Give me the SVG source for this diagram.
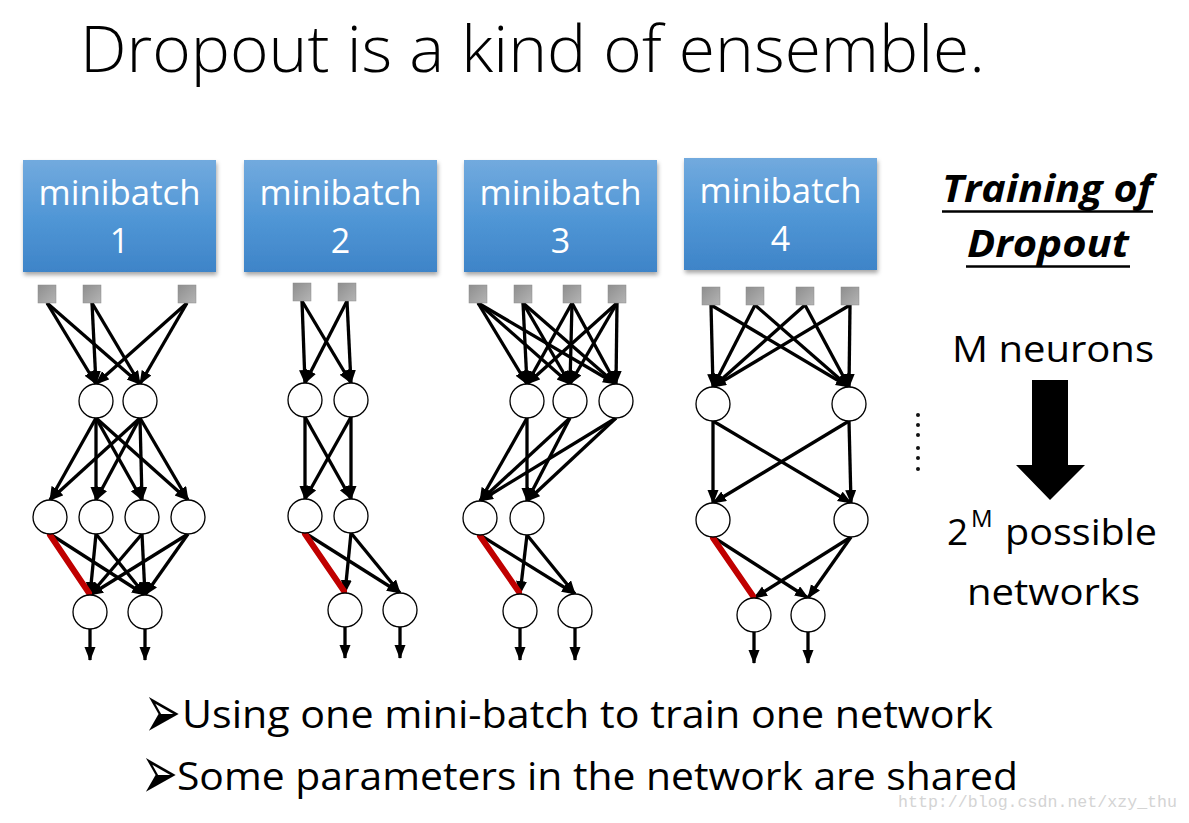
<svg xmlns="http://www.w3.org/2000/svg" width="1189" height="823" viewBox="0 0 1189 823">
<style>
.title{font-family:"Open Sans","Liberation Sans",sans-serif;font-weight:300;font-size:64px;fill:#000}
.mb{font-family:"Open Sans","Liberation Sans",sans-serif;font-size:34px;fill:#fff;text-anchor:middle}
.side{font-family:"Open Sans","Liberation Sans",sans-serif;font-size:37px;fill:#000}
.sideb{font-family:"Open Sans","Liberation Sans",sans-serif;font-size:37px;font-weight:bold;font-style:italic;fill:#000}
.bul{font-family:"Open Sans","Liberation Sans",sans-serif;font-size:38px;fill:#000}
.sym{font-family:"DejaVu Sans",sans-serif;font-size:44px;fill:#000}
.wm{font-family:"Liberation Mono",monospace;font-size:17px;fill:#d4d4d4}
.box{fill:url(#boxg);filter:url(#sh)}
.sq{fill:url(#sqg);stroke:#8a8a8a;stroke-width:0.5}
.nd{fill:#fff;stroke:#000;stroke-width:1.3}
.e{stroke:#000;stroke-width:3.3;fill:none;marker-end:url(#ah)}
.r{stroke:#c00000;stroke-width:6;stroke-linecap:round;fill:none}
</style>
<defs>
<linearGradient id="boxg" x1="0" y1="0" x2="0" y2="1">
<stop offset="0" stop-color="#72aade"/>
<stop offset="0.5" stop-color="#5197d6"/>
<stop offset="1" stop-color="#3e84c8"/>
</linearGradient>
<linearGradient id="sqg" x1="0" y1="0" x2="1" y2="1">
<stop offset="0" stop-color="#8e8e8e"/>
<stop offset="1" stop-color="#b4b4b4"/>
</linearGradient>
<filter id="sh" x="-10%" y="-10%" width="125%" height="130%">
<feDropShadow dx="1" dy="3" stdDeviation="2" flood-color="#000" flood-opacity="0.35"/>
</filter>
<marker id="ah" markerUnits="userSpaceOnUse" markerWidth="15" markerHeight="12" refX="13" refY="5.5" orient="auto">
<path d="M0,0 L14,5.5 L0,11 z" fill="#000"/>
</marker>
</defs>
<rect width="1189" height="823" fill="#fff"/>

<text class="title" x="80" y="72" textLength="905" lengthAdjust="spacingAndGlyphs">Dropout is a kind of ensemble.</text>

<g id="mb1"><rect class="box" x="23" y="160" width="193" height="112"/><text class="mb" x="119.5" y="205" textLength="162" lengthAdjust="spacingAndGlyphs">minibatch</text><text class="mb" x="119.5" y="253">1</text></g>
<g id="mb2"><rect class="box" x="244" y="160" width="193" height="112"/><text class="mb" x="340.5" y="205" textLength="162" lengthAdjust="spacingAndGlyphs">minibatch</text><text class="mb" x="340.5" y="253">2</text></g>
<g id="mb3"><rect class="box" x="464" y="160" width="193" height="112"/><text class="mb" x="560.5" y="205" textLength="162" lengthAdjust="spacingAndGlyphs">minibatch</text><text class="mb" x="560.5" y="253">3</text></g>
<g id="mb4"><rect class="box" x="684" y="158" width="193" height="112"/><text class="mb" x="780.5" y="203" textLength="162" lengthAdjust="spacingAndGlyphs">minibatch</text><text class="mb" x="780.5" y="251">4</text></g>

<g id="connectors">
<!-- net 1 -->
<line class="e" x1="47" y1="303" x2="96" y2="384"/>
<line class="e" x1="47" y1="303" x2="140" y2="384"/>
<line class="e" x1="92" y1="303" x2="96" y2="384"/>
<line class="e" x1="92" y1="303" x2="140" y2="384"/>
<line class="e" x1="187" y1="303" x2="96" y2="384"/>
<line class="e" x1="187" y1="303" x2="140" y2="384"/>
<line class="e" x1="96" y1="418" x2="50" y2="500"/>
<line class="e" x1="96" y1="418" x2="96" y2="500"/>
<line class="e" x1="96" y1="418" x2="142" y2="500"/>
<line class="e" x1="96" y1="418" x2="188" y2="500"/>
<line class="e" x1="140" y1="418" x2="50" y2="500"/>
<line class="e" x1="140" y1="418" x2="96" y2="500"/>
<line class="e" x1="140" y1="418" x2="142" y2="500"/>
<line class="e" x1="140" y1="418" x2="188" y2="500"/>
<line class="e" x1="50" y1="534" x2="145" y2="595"/>
<line class="e" x1="96" y1="534" x2="90" y2="595"/>
<line class="e" x1="96" y1="534" x2="145" y2="595"/>
<line class="e" x1="142" y1="534" x2="90" y2="595"/>
<line class="e" x1="142" y1="534" x2="145" y2="595"/>
<line class="e" x1="188" y1="534" x2="90" y2="595"/>
<line class="e" x1="188" y1="534" x2="145" y2="595"/>
<line class="r" x1="50" y1="535" x2="89" y2="593"/>
<line class="e" x1="90" y1="629" x2="90" y2="660"/>
<line class="e" x1="145" y1="629" x2="145" y2="660"/>
<!-- net 2 -->
<line class="e" x1="302" y1="301" x2="305" y2="383"/>
<line class="e" x1="302" y1="301" x2="351" y2="383"/>
<line class="e" x1="347" y1="301" x2="305" y2="383"/>
<line class="e" x1="347" y1="301" x2="351" y2="383"/>
<line class="e" x1="305" y1="417" x2="305" y2="499"/>
<line class="e" x1="305" y1="417" x2="351" y2="499"/>
<line class="e" x1="351" y1="417" x2="305" y2="499"/>
<line class="e" x1="351" y1="417" x2="351" y2="499"/>
<line class="e" x1="305" y1="533" x2="400" y2="593"/>
<line class="e" x1="351" y1="533" x2="345" y2="593"/>
<line class="e" x1="351" y1="533" x2="400" y2="593"/>
<line class="r" x1="305" y1="534" x2="344" y2="591"/>
<line class="e" x1="345" y1="627" x2="345" y2="658"/>
<line class="e" x1="400" y1="627" x2="400" y2="658"/>
<!-- net 3 -->
<line class="e" x1="478" y1="303" x2="527" y2="384"/>
<line class="e" x1="478" y1="303" x2="570" y2="384"/>
<line class="e" x1="478" y1="303" x2="616" y2="384"/>
<line class="e" x1="523" y1="303" x2="527" y2="384"/>
<line class="e" x1="523" y1="303" x2="570" y2="384"/>
<line class="e" x1="523" y1="303" x2="616" y2="384"/>
<line class="e" x1="572" y1="303" x2="527" y2="384"/>
<line class="e" x1="572" y1="303" x2="570" y2="384"/>
<line class="e" x1="572" y1="303" x2="616" y2="384"/>
<line class="e" x1="617" y1="303" x2="527" y2="384"/>
<line class="e" x1="617" y1="303" x2="570" y2="384"/>
<line class="e" x1="617" y1="303" x2="616" y2="384"/>
<line class="e" x1="527" y1="418" x2="480" y2="501"/>
<line class="e" x1="527" y1="418" x2="527" y2="501"/>
<line class="e" x1="570" y1="418" x2="480" y2="501"/>
<line class="e" x1="570" y1="418" x2="527" y2="501"/>
<line class="e" x1="616" y1="418" x2="480" y2="501"/>
<line class="e" x1="616" y1="418" x2="527" y2="501"/>
<line class="e" x1="480" y1="535" x2="575" y2="594"/>
<line class="e" x1="527" y1="535" x2="520" y2="594"/>
<line class="e" x1="527" y1="535" x2="575" y2="594"/>
<line class="r" x1="480" y1="536" x2="519" y2="592"/>
<line class="e" x1="520" y1="628" x2="520" y2="660"/>
<line class="e" x1="575" y1="628" x2="575" y2="660"/>
<!-- net 4 -->
<line class="e" x1="711" y1="305" x2="713" y2="387"/>
<line class="e" x1="711" y1="305" x2="849" y2="387"/>
<line class="e" x1="755" y1="305" x2="713" y2="387"/>
<line class="e" x1="755" y1="305" x2="849" y2="387"/>
<line class="e" x1="805" y1="305" x2="713" y2="387"/>
<line class="e" x1="805" y1="305" x2="849" y2="387"/>
<line class="e" x1="850" y1="305" x2="713" y2="387"/>
<line class="e" x1="850" y1="305" x2="849" y2="387"/>
<line class="e" x1="713" y1="421" x2="713" y2="503"/>
<line class="e" x1="713" y1="421" x2="851" y2="503"/>
<line class="e" x1="849" y1="421" x2="713" y2="503"/>
<line class="e" x1="849" y1="421" x2="851" y2="503"/>
<line class="e" x1="713" y1="537" x2="808" y2="598"/>
<line class="e" x1="851" y1="537" x2="754" y2="598"/>
<line class="e" x1="851" y1="537" x2="808" y2="598"/>
<line class="r" x1="713" y1="538" x2="753" y2="596"/>
<line class="e" x1="754" y1="632" x2="754" y2="663"/>
<line class="e" x1="808" y1="632" x2="808" y2="663"/>
</g>

<g id="net1">
<rect class="sq" x="38" y="285" width="18" height="18"/><rect class="sq" x="83" y="285" width="18" height="18"/><rect class="sq" x="178" y="285" width="18" height="18"/>
<circle class="nd" cx="96" cy="401" r="17"/><circle class="nd" cx="140" cy="401" r="17"/>
<circle class="nd" cx="50" cy="517" r="17"/><circle class="nd" cx="96" cy="517" r="17"/><circle class="nd" cx="142" cy="517" r="17"/><circle class="nd" cx="188" cy="517" r="17"/>
<circle class="nd" cx="90" cy="612" r="17"/><circle class="nd" cx="145" cy="612" r="17"/>
</g>
<g id="net2">
<rect class="sq" x="293" y="283" width="18" height="18"/><rect class="sq" x="338" y="283" width="18" height="18"/>
<circle class="nd" cx="305" cy="400" r="17"/><circle class="nd" cx="351" cy="400" r="17"/>
<circle class="nd" cx="305" cy="516" r="17"/><circle class="nd" cx="351" cy="516" r="17"/>
<circle class="nd" cx="345" cy="610" r="17"/><circle class="nd" cx="400" cy="610" r="17"/>
</g>
<g id="net3">
<rect class="sq" x="469" y="285" width="18" height="18"/><rect class="sq" x="514" y="285" width="18" height="18"/><rect class="sq" x="563" y="285" width="18" height="18"/><rect class="sq" x="608" y="285" width="18" height="18"/>
<circle class="nd" cx="527" cy="401" r="17"/><circle class="nd" cx="570" cy="401" r="17"/><circle class="nd" cx="616" cy="401" r="17"/>
<circle class="nd" cx="480" cy="518" r="17"/><circle class="nd" cx="527" cy="518" r="17"/>
<circle class="nd" cx="520" cy="611" r="17"/><circle class="nd" cx="575" cy="611" r="17"/>
</g>
<g id="net4">
<rect class="sq" x="702" y="287" width="18" height="18"/><rect class="sq" x="746" y="287" width="18" height="18"/><rect class="sq" x="796" y="287" width="18" height="18"/><rect class="sq" x="841" y="287" width="18" height="18"/>
<circle class="nd" cx="713" cy="404" r="17"/><circle class="nd" cx="849" cy="404" r="17"/>
<circle class="nd" cx="713" cy="520" r="17"/><circle class="nd" cx="851" cy="520" r="17"/>
<circle class="nd" cx="754" cy="615" r="17"/><circle class="nd" cx="808" cy="615" r="17"/>
</g>

<g id="dots" fill="#111">
<circle cx="918" cy="415" r="2"/><circle cx="918" cy="425" r="2"/><circle cx="918" cy="435" r="2"/><circle cx="918" cy="448" r="2"/><circle cx="918" cy="458" r="2"/><circle cx="918" cy="469" r="2"/>
</g>

<g id="side">
<text class="sideb" x="942" y="202" textLength="211" lengthAdjust="spacingAndGlyphs">Training of</text>
<line x1="942" y1="211.5" x2="1153" y2="211.5" stroke="#000" stroke-width="2.5"/>
<text class="sideb" x="967" y="257" textLength="162" lengthAdjust="spacingAndGlyphs">Dropout</text>
<line x1="966" y1="266.5" x2="1130" y2="266.5" stroke="#000" stroke-width="2.5"/>
<text class="side" x="952" y="362" textLength="202" lengthAdjust="spacingAndGlyphs">M neurons</text>
<polygon points="1032,380 1068,380 1068,465 1085,465 1050,500 1016,465 1032,465" fill="#000"/>
<text class="side" x="947" y="545">2<tspan font-size="24" dy="-18" x="971">M</tspan><tspan x="1005" dy="18" textLength="152" lengthAdjust="spacingAndGlyphs">possible</tspan></text>
<text class="side" x="967" y="605" textLength="173" lengthAdjust="spacingAndGlyphs">networks</text>
</g>

<g id="bullets">
<text class="sym" x="0" y="0" transform="matrix(1 0 0 1.75 144 738)">➢</text>
<text class="bul" x="182" y="728" textLength="811" lengthAdjust="spacingAndGlyphs">Using one mini-batch to train one network</text>
<text class="sym" x="0" y="0" transform="matrix(1 0 0 1.75 141 799)">➢</text>
<text class="bul" x="177" y="790" textLength="841" lengthAdjust="spacingAndGlyphs">Some parameters in the network are shared</text>
</g>

<text class="wm" x="898" y="807" textLength="279" lengthAdjust="spacingAndGlyphs">http://blog.csdn.net/xzy_thu</text>
</svg>
